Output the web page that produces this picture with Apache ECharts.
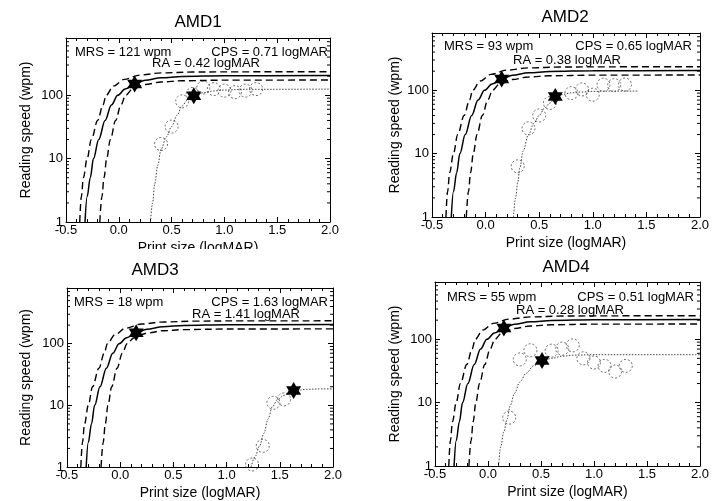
<!DOCTYPE html>
<html><head><meta charset="utf-8">
<script src="https://cdn.jsdelivr.net/npm/echarts@6/dist/echarts.min.js"></script>
<style>html,body{margin:0;padding:0;background:#fff}#c{width:712px;height:501px}</style>
</head><body><div id="c"></div>
<script>
// ---------- data ----------
const panelNames = ['AMD1', 'AMD2', 'AMD3', 'AMD4'];
const xMin = -0.5, xMax = 2.0, xStep = 0.5;
const yMin = 1, yMax = 800;
const yMinorTicks = [2,3,4,5,6,7,8,9,20,30,40,50,60,70,80,90,200,300,400,500,600,700];

const mrsValues = [121, 93, 18, 55];
const cpsValues = [0.71, 0.65, 1.63, 0.51];
const raValues  = [0.42, 0.38, 1.41, 0.28];

// normal-vision reference curves (identical in every panel)
const normSolidX = [-0.32, -0.30, -0.27, -0.24, -0.19, -0.13, -0.07, -0.01, 0.06, 0.15, 0.25, 0.40, 0.60, 1.00, 2.00];
const normSolidY = [1, 2.5, 5, 10, 20, 40, 70, 100, 125, 150, 172, 188, 198, 203, 205];
const normUpperX = [-0.37, -0.355, -0.335, -0.30, -0.26, -0.20, -0.15, -0.12, -0.05, 0.05, 0.20, 0.40, 0.70, 1.00, 2.00];
const normUpperY = [1, 2.5, 5, 10, 20, 40, 70, 100, 140, 178, 208, 225, 232, 234, 235];
const normLowerX = [-0.18, -0.16, -0.14, -0.115, -0.08, -0.03, 0.02, 0.065, 0.13, 0.25, 0.40, 0.60, 1.00, 2.00];
const normLowerY = [1, 2.5, 5, 10, 20, 40, 70, 100, 125, 148, 162, 169, 173, 174];
const normStar = [0.15, 150];

// patient data (circles), fitted curves (dotted) and CPS stars
const amd1CircleX = [0.4, 0.5, 0.6, 0.7, 0.8, 0.9, 1.0, 1.1, 1.2, 1.3];
const amd1CircleY = [17, 32, 80, 105, 132, 125, 118, 112, 118, 125];
const amd1FitX = [0.30, 0.32, 0.34, 0.37, 0.40, 0.45, 0.50, 0.55, 0.60, 0.65, 0.71, 0.80, 0.90, 1.00, 1.20, 2.00];
const amd1FitY = [1, 2, 4, 8, 14, 22, 32, 48, 68, 84, 98, 110, 117, 121, 124, 125];

const amd2CircleX = [0.3, 0.4, 0.5, 0.6, 0.8, 0.9, 1.0, 1.1, 1.2, 1.3];
const amd2CircleY = [6.3, 25, 40, 63, 90, 103, 85, 122, 120, 123];
const amd2FitX = [0.26, 0.28, 0.30, 0.32, 0.35, 0.40, 0.45, 0.50, 0.55, 0.60, 0.66, 0.72, 0.80, 0.90, 1.00, 1.20, 1.43];
const amd2FitY = [1, 2, 3.5, 6, 11, 20, 30, 40, 52, 63, 80, 86, 91, 94, 96, 97, 97];

const amd3CircleX = [1.24, 1.34, 1.44, 1.54];
const amd3CircleY = [1.1, 2.2, 11, 12.5];
const amd3FitX = [1.23, 1.27, 1.31, 1.35, 1.39, 1.43, 1.48, 1.54, 1.60, 1.66, 1.75, 1.90, 2.00];
const amd3FitY = [1, 1.5, 2.2, 3.5, 6, 9.5, 12.5, 14.5, 16.5, 17.5, 18.2, 18.5, 18.5];

const amd4CircleX = [0.2, 0.3, 0.4, 0.6, 0.7, 0.8, 0.9, 1.0, 1.1, 1.2, 1.3];
const amd4CircleY = [5.8, 48, 67, 66, 71, 80, 50, 43, 38, 31, 38];
const amd4FitX = [0.10, 0.12, 0.15, 0.18, 0.21, 0.25, 0.30, 0.36, 0.43, 0.51, 0.60, 0.70, 0.80, 1.00, 2.00];
const amd4FitY = [1, 2, 3.5, 5.5, 9, 14, 21, 29, 38, 45, 50, 54, 56, 57, 57];

const starY = [98, 80, 17.4, 46];

const circleXs = [amd1CircleX, amd2CircleX, amd3CircleX, amd4CircleX];
const circleYs = [amd1CircleY, amd2CircleY, amd3CircleY, amd4CircleY];
const fitXs = [amd1FitX, amd2FitX, amd3FitX, amd4FitX];
const fitYs = [amd1FitY, amd2FitY, amd3FitY, amd4FitY];

// ---------- layout ----------
const FONT = "'Liberation Sans', Arial, Helvetica, sans-serif";
const grids = [
  {left: 66,  top: 38,  width: 264, height: 184},
  {left: 432, top: 33,  width: 268, height: 184},
  {left: 67,  top: 288, width: 266, height: 183},
  {left: 435, top: 282, width: 269, height: 184}
];
const yNameGaps = [33, 30, 34, 33];
const titlePos = [[198, 22], [565, 17], [155, 270], [566, 267]];
const mrsPos = [[75, 52], [444, 46], [74, 302], [447, 297]];
const cpsPos = [[328, 52], [692, 46], [328, 302], [694, 297]];
const raPos  = [[206, 63], [567, 60], [246, 314], [570, 310]];

const starPath = 'path://M0,-10L2.887,-5L8.66,-5L5.774,0L8.66,5L2.887,5L0,10L-2.887,5L-8.66,5L-5.774,0L-8.66,-5L-2.887,-5Z';

function pairs(xs, ys) { return xs.map((x, i) => [x, ys[i]]); }

const xAxes = [], yAxes = [], series = [], graphics = [];
const axisLineStyle = {show: true, onZero: false, lineStyle: {color: '#000', width: 1}};

grids.forEach((g, i) => {
  const common = {
    gridIndex: i, type: 'value', min: xMin, max: xMax, interval: xStep,
    axisLine: axisLineStyle, splitLine: {show: false},
    axisTick: {show: true, inside: true, length: 5, lineStyle: {color: '#000'}},
    minorTick: {show: true, splitNumber: 5, length: 3, lineStyle: {color: '#000'}},
  };
  xAxes.push(Object.assign({}, common, {
    position: 'bottom',
    name: 'Print size (logMAR)', nameLocation: 'middle', nameGap: 19,
    nameTextStyle: {fontFamily: FONT, fontSize: 14, color: '#000'},
    axisLabel: {margin: 2, fontFamily: FONT, fontSize: 13, color: '#000', formatter: v => v.toFixed(1)}
  }));
  xAxes.push(Object.assign({}, common, {position: 'top', axisLabel: {show: false}}));
  const ycommon = {
    gridIndex: i, type: 'log', logBase: 10, min: yMin, max: yMax,
    axisLine: axisLineStyle, splitLine: {show: false},
    axisTick: {show: true, inside: true, length: 5, lineStyle: {color: '#000'}},
  };
  yAxes.push(Object.assign({}, ycommon, {
    position: 'left',
    name: 'Reading speed (wpm)', nameLocation: 'middle', nameGap: yNameGaps[i],
    nameTextStyle: {fontFamily: FONT, fontSize: 14, color: '#000'},
    axisLabel: {margin: 3, fontFamily: FONT, fontSize: 13, color: '#000', showMaxLabel: false}
  }));
  yAxes.push(Object.assign({}, ycommon, {position: 'right', axisLabel: {show: false}}));

  const ax = {xAxisIndex: 2 * i, yAxisIndex: 2 * i};
  const lineBase = Object.assign({type: 'line', showSymbol: false, symbol: 'none', smooth: 0.35, smoothMonotone: 'x', silent: true}, ax);

  series.push(Object.assign({}, lineBase, {data: pairs(normUpperX, normUpperY), lineStyle: {color: '#000', width: 1.4, type: [7, 4]}}));
  series.push(Object.assign({}, lineBase, {data: pairs(normLowerX, normLowerY), lineStyle: {color: '#000', width: 1.4, type: [7, 4]}}));
  series.push(Object.assign({}, lineBase, {data: pairs(normSolidX, normSolidY), lineStyle: {color: '#000', width: 1.5}}));
  series.push(Object.assign({}, lineBase, {data: pairs(fitXs[i], fitYs[i]), lineStyle: {color: '#444', width: 1, type: [1.5, 1.5]}}));
  series.push(Object.assign({type: 'scatter', symbol: 'circle', symbolSize: 13, silent: true,
    data: pairs(circleXs[i], circleYs[i]),
    itemStyle: {color: 'rgba(255,255,255,0)', borderColor: '#444', borderWidth: 1, borderType: [2, 2]}}, ax));
  series.push(Object.assign({type: 'scatter', symbol: starPath, symbolSize: [15, 17], symbolKeepAspect: false, silent: true,
    data: [normStar, [cpsValues[i], starY[i]]], itemStyle: {color: '#000', opacity: 1}, z: 5}, ax));
  series.push(Object.assign({type: 'custom', silent: true, clip: false,
    data: yMinorTicks.map(v => [xMin, v]),
    renderItem: (params, api) => {
      const v = api.value(1);
      const pl = api.coord([xMin, v]);
      const pr = api.coord([xMax, v]);
      return {type: 'group', children: [
        {type: 'line', shape: {x1: pl[0], y1: pl[1], x2: pl[0] + 3, y2: pl[1]}, style: {stroke: '#000', lineWidth: 1}},
        {type: 'line', shape: {x1: pr[0] - 3, y1: pr[1], x2: pr[0], y2: pr[1]}, style: {stroke: '#000', lineWidth: 1}}
      ]};
    }}, ax));

  graphics.push({type: 'text', x: titlePos[i][0], y: titlePos[i][1], style: {text: panelNames[i], font: '17px ' + FONT, fill: '#000', align: 'center', verticalAlign: 'middle'}});
  graphics.push({type: 'text', x: mrsPos[i][0], y: mrsPos[i][1], style: {text: 'MRS = ' + mrsValues[i] + ' wpm', font: '13px ' + FONT, fill: '#000', align: 'left', verticalAlign: 'middle'}});
  graphics.push({type: 'text', x: cpsPos[i][0], y: cpsPos[i][1], style: {text: 'CPS = ' + cpsValues[i].toFixed(2) + ' logMAR', font: '13px ' + FONT, fill: '#000', align: 'right', verticalAlign: 'middle'}});
  graphics.push({type: 'text', x: raPos[i][0], y: raPos[i][1], style: {text: 'RA = ' + raValues[i].toFixed(2) + ' logMAR', font: '13px ' + FONT, fill: '#000', align: 'center', verticalAlign: 'middle'}});
});
// the lower-left panel overlaps the bottom of the upper-left axis title in the original
graphics.push({type: 'rect', shape: {x: 0, y: 249, width: 356, height: 10}, style: {fill: '#fff'}, z: 100});

const chart = echarts.init(document.getElementById('c'), null, {renderer: 'canvas'});
chart.setOption({
  animation: false,
  backgroundColor: '#fff',
  grid: grids,
  xAxis: xAxes,
  yAxis: yAxes,
  series: series,
  graphic: graphics
});
</script></body></html>
